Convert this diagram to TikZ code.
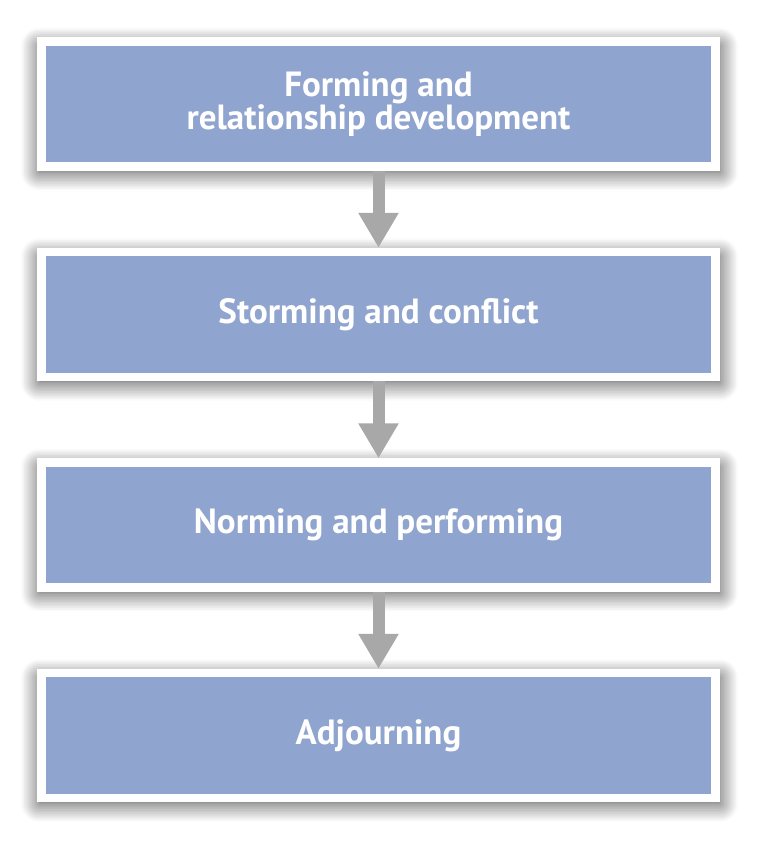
\documentclass[tikz,border=0pt]{standalone}
\usepackage{fontspec}
\setsansfont{PT Sans}
\usetikzlibrary{positioning, arrows.meta, shadows.blur}
\definecolor{stageblue}{HTML}{8FA4CE}
\definecolor{arrowgray}{HTML}{A8A8A8}

\begin{document}
\begin{tikzpicture}[x=1pt, y=1pt,
    stage/.style={draw=white, line width=8.5pt, fill=stageblue,
        minimum width=674pt, minimum height=125pt, outer sep=4.25pt,
        text=white, align=center,
        font=\sffamily\bfseries\fontsize{35}{33}\selectfont,
        blur shadow={shadow xshift=1pt, shadow yshift=-5pt, shadow scale=1.01,
            shadow blur radius=18pt, shadow blur steps=12, shadow opacity=75}},
    flow/.style={draw=arrowgray, line width=12pt,
        -{Triangle[width=38pt, length=35pt]}},
    node distance=77pt]
    \useasboundingbox (0,0) rectangle (758,-843);

    % Stages
    \node[stage] (forming) at (378.5,-104) {Forming and\\relationship development};
    \node[stage, below=of forming] (storming) {Storming and conflict};
    \node[stage, below=of storming] (norming) {Norming and performing};
    \node[stage, below=of norming] (adjourning) {Adjourning};

    % Arrows
    \draw[flow] (forming) -- (storming);
    \draw[flow] (storming) -- (norming);
    \draw[flow] (norming) -- (adjourning);
\end{tikzpicture}
\end{document}
